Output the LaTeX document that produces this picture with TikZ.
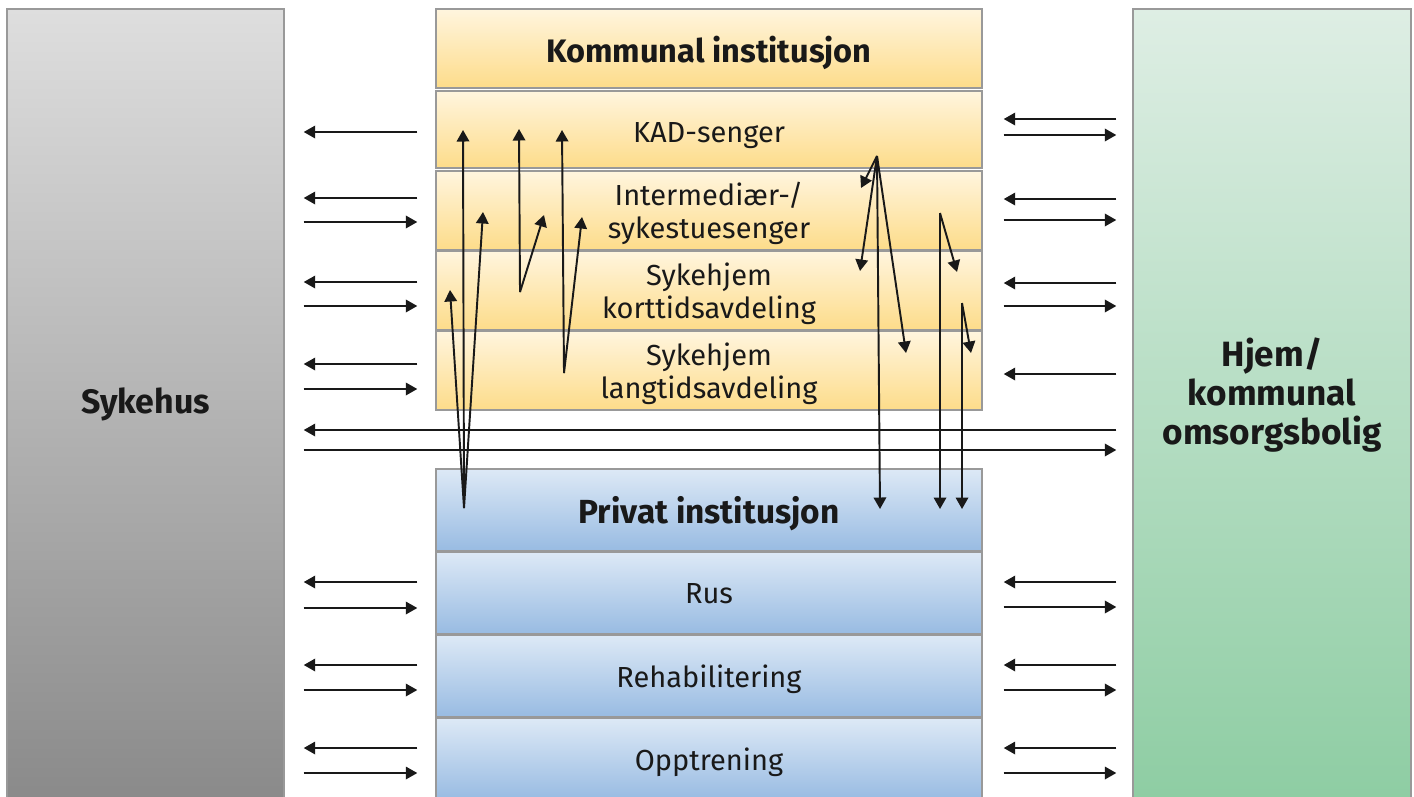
\documentclass[tikz,border=0pt]{standalone}
\usepackage{fontspec}
\setmainfont{Fira Sans}
\usetikzlibrary{arrows.meta}

\definecolor{kom1}{RGB}{255,245,222}
\definecolor{kom2}{RGB}{253,220,138}
\definecolor{pri1}{RGB}{221,233,246}
\definecolor{pri2}{RGB}{152,187,226}
\definecolor{grey1}{RGB}{222,222,222}
\definecolor{grey2}{RGB}{138,138,138}
\definecolor{gronn1}{RGB}{222,238,228}
\definecolor{gronn2}{RGB}{142,205,163}

\tikzset{
  felt/.style={draw=black!40, line width=0.8pt, inner sep=0pt, align=center,
    text=black!90, font=\fontsize{16.5}{18.7}\selectfont},
  kom/.style={felt, text depth=0pt, top color=kom1, bottom color=kom2, minimum width=109.2mm},
  pri/.style={felt, text depth=0pt, top color=pri1, bottom color=pri2, minimum width=109.2mm,
    minimum height=16.4mm},
  pil/.style={-{Triangle[length=2.3mm,width=2.5mm]}, line width=1.1pt, black!90}
}

\begin{document}
\begin{tikzpicture}[x=0.2mm,y=-0.2mm]
  \useasboundingbox (0,0) rectangle (1414,796);

  \node[felt, top color=grey1, bottom color=grey2, minimum width=55.4mm,
    minimum height=158.2mm, font=\fontsize{19.3}{22}\selectfont\bfseries] (sykehus) at (145.5,404.5) {Sykehus};
  \node[felt, top color=gronn1, bottom color=gronn2, minimum width=55.6mm, text depth=15pt,
    minimum height=158.2mm, font=\fontsize{20}{22.2}\selectfont\bfseries] (hjem) at (1272,404.5) {Hjem/\\kommunal\\omsorgsbolig};

  \node[kom, minimum height=15.8mm, text height=16pt, font=\fontsize{18.5}{21}\selectfont\bfseries] (kommunal) at (709,48.5) {Kommunal institusjon};
  \node[kom, minimum height=15.4mm, text height=15pt] (kad) at (709,129.5) {KAD-senger};
  \node[kom, minimum height=15.8mm] (inter) at (709,210.5) {Intermediær-/\\sykestuesenger};
  \node[kom, minimum height=15.8mm] (kort) at (709,290.5) {Sykehjem\\korttidsavdeling};
  \node[kom, minimum height=15.8mm] (lang) at (709,370.5) {Sykehjem\\langtidsavdeling};

  \node[pri, font=\fontsize{19}{21}\selectfont\bfseries] (privat) at (709,510) {Privat institusjon};
  \node[pri] (rus) at (709,593) {Rus};
  \node[pri] (rehab) at (709,676) {Rehabilitering};
  \node[pri] (opp) at (709,759) {Opptrening};

  % til og fra sykehus
  \foreach \y in {132,198,282,364,582,665,748}
    \draw[pil, shorten <=3.6mm, shorten >=3.8mm] (kommunal.west |- 0,\y) -- (sykehus.east |- 0,\y);
  \foreach \y in {222,306,389,608,690,773}
    \draw[pil, shorten <=3.8mm, shorten >=3.6mm] (sykehus.east |- 0,\y) -- (kommunal.west |- 0,\y);

  % til og fra hjemmet
  \foreach \y in {119,199,283,374,582,665,748}
    \draw[pil, shorten <=3.2mm, shorten >=4.2mm] (hjem.west |- 0,\y) -- (kommunal.east |- 0,\y);
  \foreach \y in {135,220,306,607,690,773}
    \draw[pil, shorten <=4.2mm, shorten >=3.2mm] (kommunal.east |- 0,\y) -- (hjem.west |- 0,\y);

  \draw[pil, shorten <=3.2mm, shorten >=3.8mm] (hjem.west |- 0,430) -- (sykehus.east |- 0,430);
  \draw[pil, shorten <=3.8mm, shorten >=3.2mm] (sykehus.east |- 0,450) -- (hjem.west |- 0,450);

  % flyt mellom avdelingene
  \foreach \n/\x/\y in {p1/464/508,p2/520/292,p3/564/373,k1/877/156,k2/940/213,k3/962/303,
      a1/463/130,a2/450/290,a3/483/212,a4/519/129,a5/544/215,a6/562/130,a7/582/217,
      b1/861/188,b2/860/271,b3/906/353,b4/880/509,b5/957/272,b6/940/509,b7/971/353,b8/962/509}
    \coordinate (\n) at (\x,\y);

  \foreach \from/\to in {p1/a1,p1/a2,p1/a3,p2/a4,p2/a5,p3/a6,p3/a7,
      k1/b1,k1/b2,k1/b3,k1/b4,k2/b5,k2/b6,k3/b7,k3/b8}
    \draw[pil] (\from) -- (\to);
\end{tikzpicture}
\end{document}
